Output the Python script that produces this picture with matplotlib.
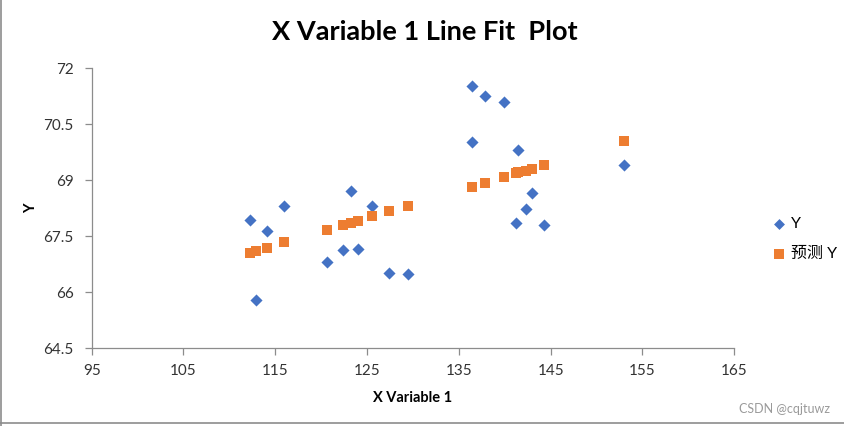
import matplotlib.pyplot as plt
from matplotlib.lines import Line2D

# values
x_var = [112.28, 112.93, 114.13, 115.98, 120.66, 122.41, 123.28, 124.04, 125.57, 127.42,
         129.49, 136.46, 137.88, 139.95, 136.46, 141.47, 143.0, 142.34, 141.25, 144.30, 153.02]
y_obs = [67.93, 65.79, 67.63, 68.31, 66.81, 67.12, 68.71, 67.15, 68.31, 66.51,
         66.48, 71.53, 71.26, 71.09, 70.02, 69.80, 68.65, 68.22, 67.85, 67.79, 69.40]
y_pred = [67.06, 67.11, 67.19, 67.35, 67.68, 67.81, 67.86, 67.92, 68.05, 68.19,
          68.32, 68.82, 68.93, 69.10, 68.82, 69.21, 69.31, 69.26, 69.20, 69.41, 70.05]
x_ticks = [95, 105, 115, 125, 135, 145, 155, 165]
y_ticks = [64.5, 66, 67.5, 69, 70.5, 72]
y_ticklabels = ["64.5", "66", "67.5", "69", "70.5", "72"]

plt.rcParams['font.family'] = ['Lato', 'Noto Sans CJK SC', 'DejaVu Sans']

fig = plt.figure(figsize=(8.44, 4.26), dpi=100)
ax = fig.add_axes([0.1086, 0.1824, 0.7614, 0.6573])

blue = '#4472C4'
orange = '#ED7D31'
ax.scatter(x_var, y_obs, marker='D', s=38, color=blue, linewidths=0, label='Y', zorder=3)
ax.scatter(x_var, y_pred, marker='s', s=52, color=orange, linewidths=0, label='预测 Y', zorder=3)

ax.set_xlim(95, 165)
ax.set_ylim(64.5, 72)
ax.set_xticks(x_ticks)
ax.set_yticks(y_ticks)
ax.set_yticklabels(y_ticklabels)

for s in ['top', 'right']:
    ax.spines[s].set_visible(False)
for s in ['left', 'bottom']:
    ax.spines[s].set_color('#8c8c8c')
    ax.spines[s].set_linewidth(0.9)
ax.tick_params(axis='both', colors='#8c8c8c', length=5, width=0.9, labelsize=11,
               labelcolor='#333333')
ax.tick_params(axis='x', pad=6)
ax.tick_params(axis='y', pad=8)

ax.set_xlabel('X Variable 1', fontsize=10.5, fontweight='bold', labelpad=10)
ax.set_ylabel('Y', fontsize=10.5, fontweight='bold')
ax.yaxis.set_label_coords(-0.083, 0.5)
fig.text(0.503, 0.925, 'X Variable 1 Line Fit  Plot', ha='center', va='center',
         fontsize=19.5, fontweight='bold')

ax.legend(loc='center left', bbox_to_anchor=(1.033, 0.39), frameon=False, fontsize=11.5,
          handletextpad=0.1, labelspacing=1.0, markerscale=0.9, handlelength=1.2)

# chart border (left and bottom visible) and watermark
fig.add_artist(Line2D([0.001, 0.001], [0.0, 1.0], transform=fig.transFigure, color='#8c8c8c', lw=1.2))
fig.add_artist(Line2D([0.0, 1.0], [0.006, 0.006], transform=fig.transFigure, color='#8c8c8c', lw=1.2))
fig.text(0.983, 0.04, 'CSDN @cqjtuwz', ha='right', va='center', fontsize=9, color='#9a9a9a')

fig.savefig('out.png', dpi=100)
